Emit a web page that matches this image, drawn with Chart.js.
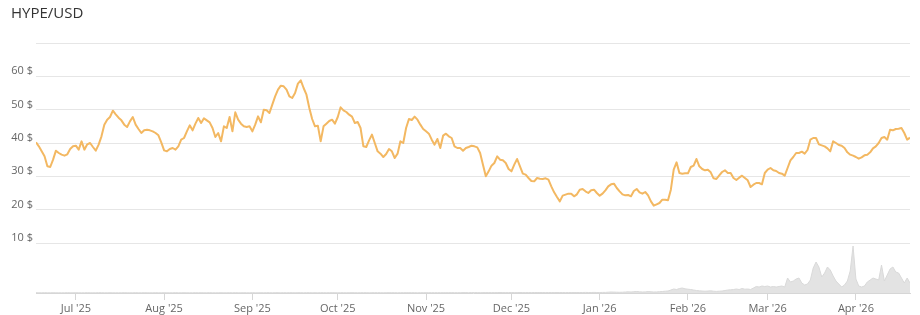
<!DOCTYPE html>
<html>
<head>
<meta charset="utf-8">
<script src="https://cdn.jsdelivr.net/npm/chart.js@4/dist/chart.umd.min.js"></script>
<style>
html,body{margin:0;padding:0;background:#fff;}
#wrap{width:920px;height:315px;}
</style>
</head>
<body>
<div id="wrap"><canvas id="c" width="920" height="315"></canvas></div>
<script>
// Day 0 = 17 Jun 2025, one value per day up to 20 Apr 2026
const startDate = [2025, 5, 17];
const prices = [
40.2,39.0,37.5,36.0,33.0,32.8,35.0,37.7,37.0,36.5,
36.2,36.6,38.2,39.0,39.2,38.0,40.5,38.0,39.6,40.0,
38.8,37.7,39.5,42.0,45.5,47.0,47.8,49.7,48.6,47.6,
46.8,45.5,44.8,46.5,47.8,45.5,44.2,43.0,43.8,44.0,
43.8,43.5,43.0,42.3,40.2,37.8,37.5,38.2,38.5,38.0,
39.0,41.0,41.5,43.5,45.3,43.8,45.8,47.5,46.0,47.4,
46.8,46.2,44.5,41.8,43.0,40.5,45.0,44.5,47.8,43.5,
49.2,47.0,45.8,45.0,44.8,45.0,43.5,45.5,48.0,46.2,
50.0,49.8,49.0,51.5,54.0,56.0,57.2,57.0,56.0,54.0,
53.5,55.0,57.8,58.8,56.5,54.5,50.5,47.2,45.0,45.2,
40.5,45.0,45.8,46.6,47.0,45.8,47.8,50.7,49.8,49.3,
48.5,47.9,46.0,46.3,44.5,39.0,38.8,40.8,42.5,40.0,
37.5,36.8,35.8,36.7,38.2,37.5,35.5,36.8,40.5,40.0,
44.5,47.2,46.9,47.9,47.0,45.5,44.2,43.5,42.8,41.0,
39.5,41.2,38.5,42.2,42.8,42.0,41.5,39.0,38.5,38.5,
37.7,38.5,38.8,39.2,39.0,38.7,37.0,33.5,30.0,31.5,
33.2,34.0,36.0,35.0,34.8,34.0,32.2,31.5,33.5,35.2,
33.0,30.8,30.5,29.5,28.6,28.5,29.5,29.3,29.2,29.4,
29.0,27.0,25.2,23.8,22.5,24.2,24.5,24.8,24.8,24.0,
24.6,26.0,26.2,25.5,25.0,25.8,26.0,25.0,24.2,24.8,
25.8,27.0,27.6,27.8,26.5,25.5,24.6,24.3,24.4,24.0,
25.6,26.2,25.2,24.8,25.3,24.3,22.5,21.2,21.6,22.0,
23.0,23.0,22.8,26.0,32.0,34.2,31.0,30.8,30.9,30.9,
32.8,33.2,35.2,33.0,32.2,31.8,32.0,31.2,29.4,29.2,
30.3,31.3,31.8,31.0,31.0,29.5,28.9,29.6,30.2,29.5,
28.8,26.8,27.5,28.0,28.0,27.6,31.0,32.0,32.5,31.8,
31.6,31.0,30.8,30.2,32.5,34.8,35.8,37.0,37.0,37.4,
36.8,37.9,41.0,41.5,41.5,39.6,39.3,39.0,38.4,37.5,
40.5,40.0,39.4,39.2,38.5,37.2,36.5,36.2,35.8,35.3,
35.7,36.3,36.5,37.2,38.4,39.0,40.0,41.5,41.8,41.0,
44.0,43.8,44.2,44.3,44.5,43.0,41.0,41.6
];
const volumes = [
0.3,0.2,0.2,0.3,0.2,0.2,0.3,0.2,0.2,0.2,
0.2,0.3,0.2,0.2,0.3,0.2,0.2,0.2,0.3,0.2,
0.2,0.2,0.3,0.3,0.2,0.2,0.3,0.2,0.2,0.2,
0.2,0.3,0.2,0.2,0.2,0.3,0.2,0.2,0.3,0.2,
0.2,0.2,0.3,0.2,0.2,0.3,0.2,0.2,0.2,0.3,
0.2,0.2,0.3,0.2,0.2,0.2,0.3,0.2,0.3,0.2,
0.2,0.3,0.2,0.2,0.2,0.3,0.2,0.2,0.3,0.2,
0.3,0.2,0.2,0.3,0.2,0.2,0.3,0.2,0.2,0.3,
0.2,0.3,0.3,0.2,0.3,0.3,0.2,0.3,0.2,0.3,
0.3,0.2,0.3,0.3,0.2,0.3,0.3,0.2,0.3,0.2,
0.3,0.3,0.2,0.3,0.3,0.3,0.2,0.3,0.3,0.2,
0.3,0.3,0.3,0.2,0.3,0.3,0.3,0.2,0.3,0.3,
0.3,0.3,0.2,0.3,0.3,0.3,0.3,0.2,0.3,0.3,
0.3,0.3,0.3,0.3,0.2,0.3,0.3,0.3,0.3,0.3,
0.3,0.3,0.3,0.3,0.3,0.3,0.4,0.3,0.3,0.3,
0.4,0.4,0.3,0.4,0.4,0.4,0.3,0.4,0.4,0.4,
0.4,0.4,0.4,0.5,0.4,0.4,0.4,0.5,0.4,0.4,
0.5,0.4,0.4,0.5,0.4,0.5,0.4,0.5,0.5,0.4,
0.5,0.5,0.4,0.5,0.5,0.5,0.4,0.5,0.5,0.5,
0.5,0.5,0.5,0.6,0.5,0.5,0.6,0.5,0.5,0.6,
0.6,0.8,1.0,0.9,0.8,0.7,0.8,1.0,1.2,1.0,
1.3,1.5,1.2,1.0,1.1,1.4,1.2,1.0,1.1,1.3,
1.5,1.8,2.0,3.0,4.0,3.5,4.5,5.0,4.2,3.8,
3.5,3.0,2.5,2.2,2.0,1.8,2.0,2.2,1.8,1.6,
1.8,2.0,2.5,3.0,3.2,3.5,4.0,3.5,4.5,3.8,
4.0,3.5,5.0,6.5,6.0,7.0,6.5,7.0,6.0,6.5,
6.0,6.5,7.0,6.0,15,11,12,14,15,10,
8,9,13,25,31,26,16,20,26,23,
17,12,9,6,8,12,22,47,14,7,
6,7,11,13,15,14,13,28,12,18,
24,26,21,20,15,10,15,10
];
const monthTickDays = [14,45,76,106,137,167,198,229,257,288];
const monthTickLabels = ["Jul '25","Aug '25","Sep '25","Oct '25","Nov '25","Dec '25","Jan '26","Feb '26","Mar '26","Apr '26"];
const priceTicks = [10,20,30,40,50,60,70];
const titleText = 'HYPE/USD';

const pricePts = prices.map((v,i)=>({x:i,y:v}));
const volPts = volumes.map((v,i)=>({x:i,y:v}));

const FONT = "'Open Sans', 'DejaVu Sans', sans-serif";

new Chart(document.getElementById('c'), {
  type: 'line',
  data: {
    datasets: [
      {
        label: 'Price',
        data: pricePts,
        yAxisID: 'y',
        borderColor: '#f3b862',
        borderWidth: 2,
        pointRadius: 0,
        tension: 0,
        borderJoinStyle: 'round',
        fill: false
      },
      {
        label: 'Volume',
        data: volPts,
        yAxisID: 'y2',
        borderColor: '#d9d9d9',
        backgroundColor: '#e3e3e3',
        borderWidth: 1,
        pointRadius: 0,
        tension: 0,
        fill: 'origin'
      }
    ]
  },
  options: {
    responsive: false,
    animation: false,
    devicePixelRatio: 1,
    layout: { padding: { left: 11, right: 10, top: 0, bottom: 0 } },
    plugins: {
      legend: { display: false },
      tooltip: { enabled: false },
      title: {
        display: true,
        text: titleText,
        align: 'start',
        color: '#333333',
        font: { family: FONT, size: 15, weight: 'normal' },
        padding: { top: 5, bottom: 20 }
      }
    },
    scales: {
      x: {
        type: 'linear',
        min: 0,
        max: prices.length - 1,
        afterBuildTicks: (s) => { s.ticks = monthTickDays.map(v => ({ value: v })); },
        afterFit: (s) => { s.height = 22; },
        ticks: {
          autoSkip: false,
          maxRotation: 0,
          padding: 2,
          color: '#666666',
          font: { family: FONT, size: 11 },
          callback: (v) => { const i = monthTickDays.indexOf(v); return i >= 0 ? monthTickLabels[i] : ''; }
        },
        grid: { drawOnChartArea: false, drawTicks: true, tickLength: 7, color: '#d6d6d6' },
        border: { display: true, color: '#d6d6d6' }
      },
      y: {
        type: 'linear',
        position: 'left',
        min: -5,
        max: 70,
        afterBuildTicks: (s) => { s.ticks = priceTicks.map(v => ({ value: v })); },
        afterFit: (s) => { s.width = 25; },
        ticks: {
          padding: 3,
          labelOffset: -5,
          color: '#666666',
          font: { family: FONT, size: 11 },
          callback: (v) => v === 70 ? '' : v + ' $'
        },
        grid: { color: '#e6e6e6', drawTicks: false },
        border: { display: false }
      },
      y2: {
        type: 'linear',
        position: 'right',
        display: false,
        min: 0,
        max: 250
      }
    }
  }
});
</script>
</body>
</html>
